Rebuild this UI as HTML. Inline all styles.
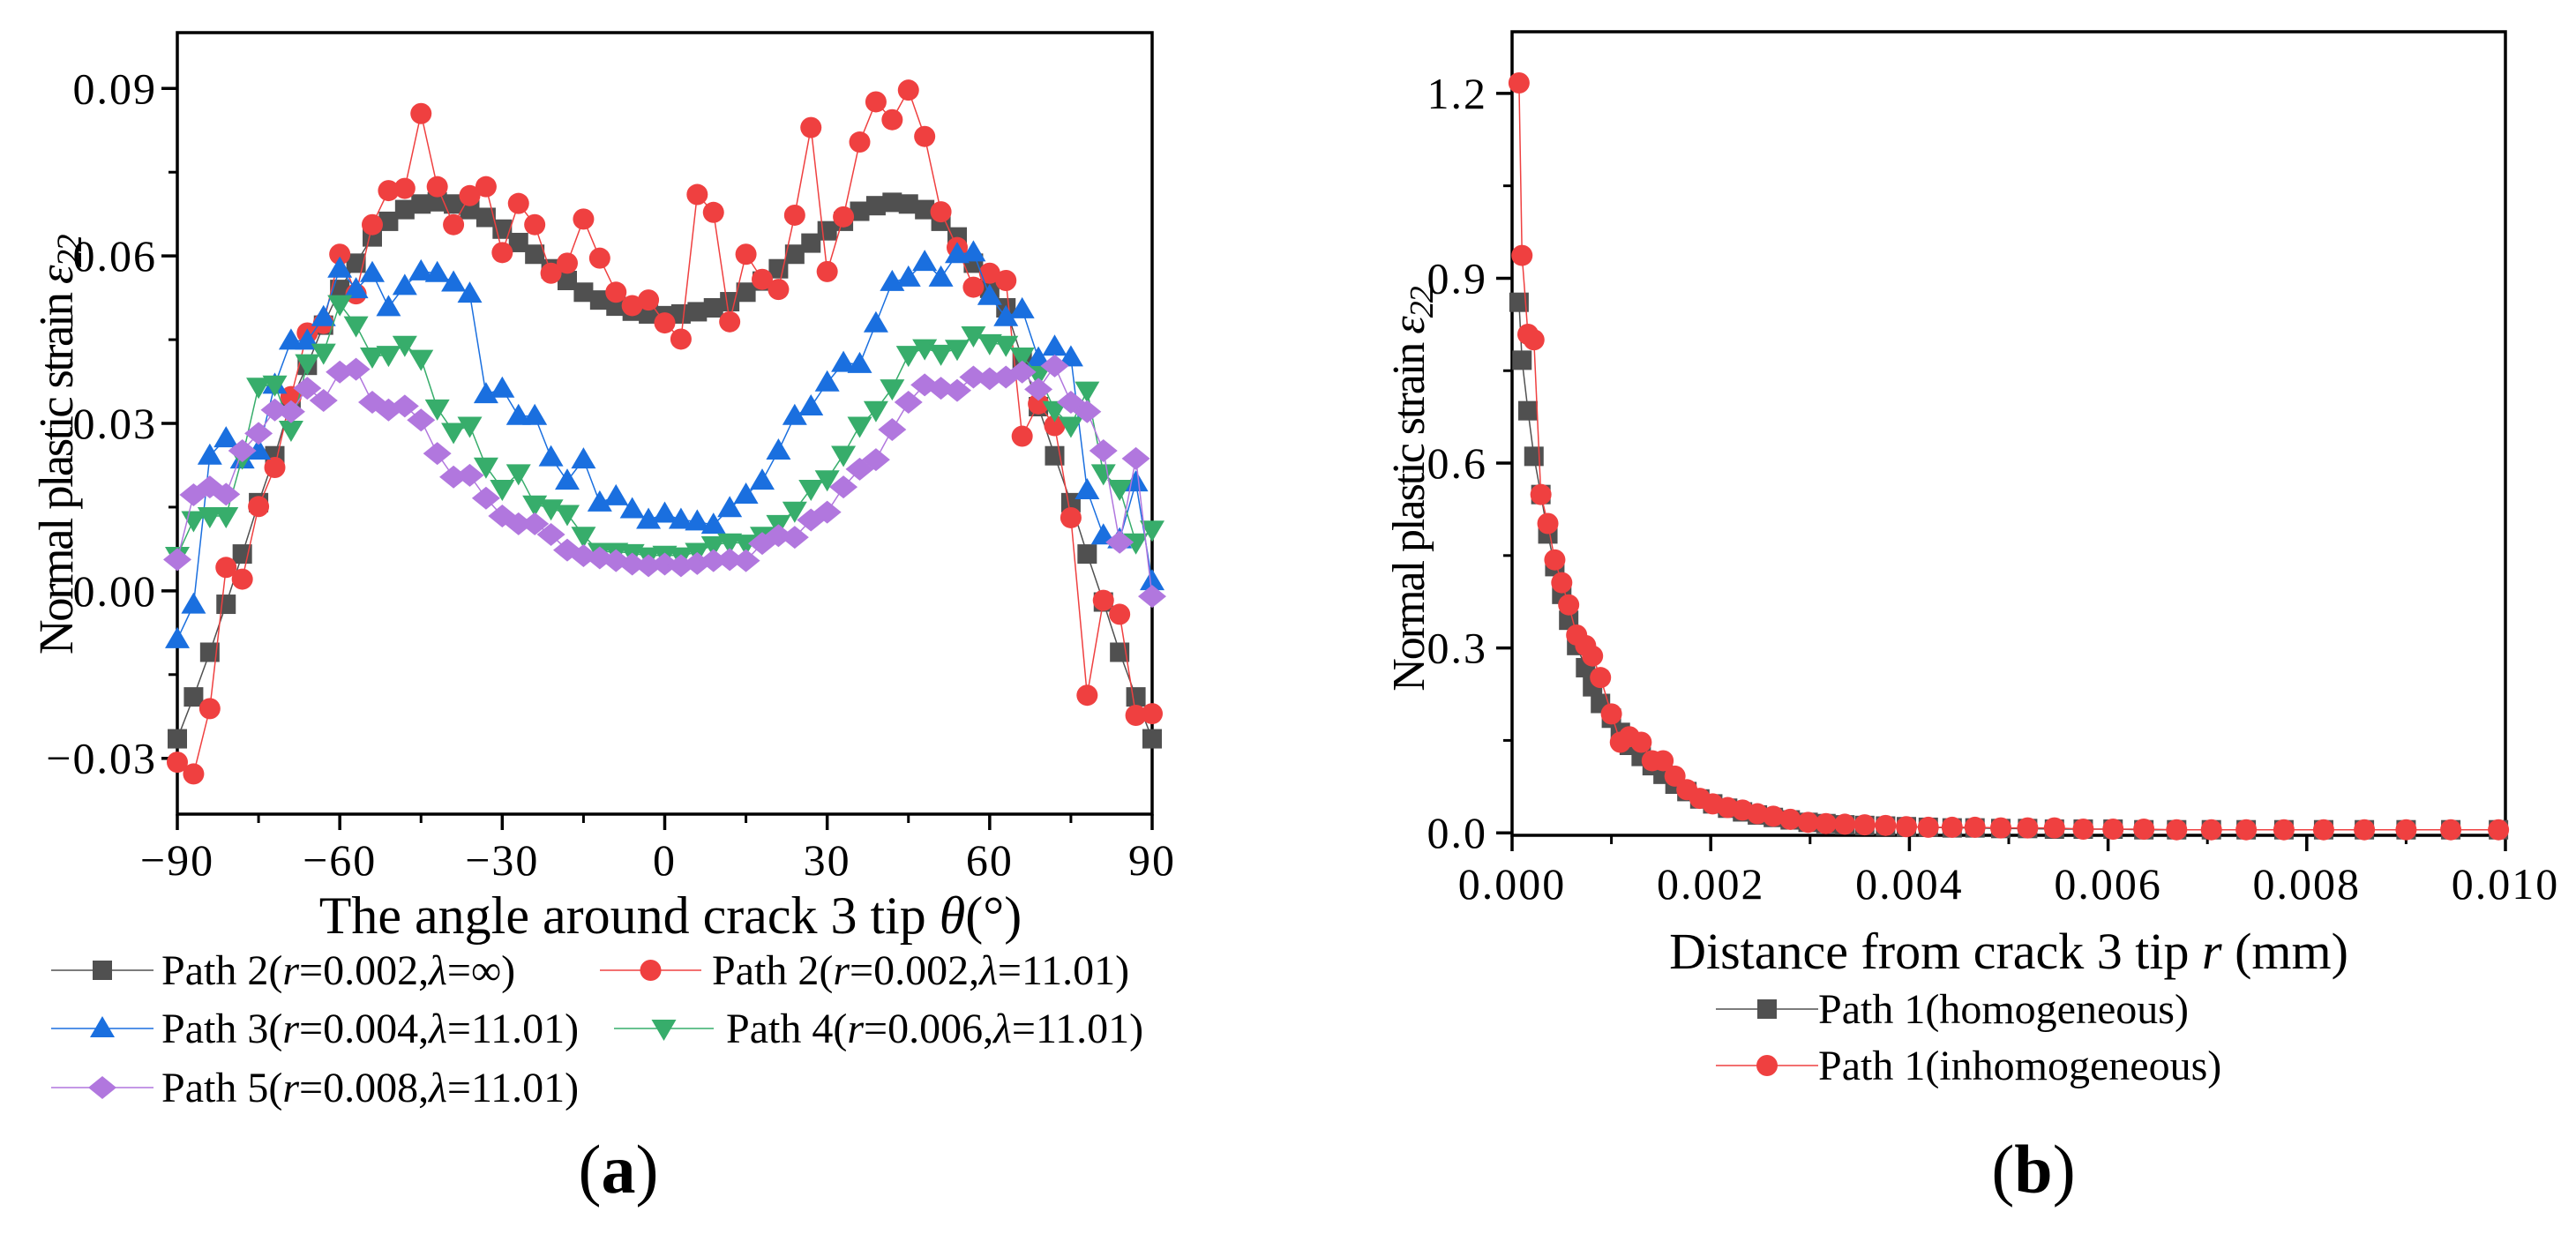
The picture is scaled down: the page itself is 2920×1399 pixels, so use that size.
<!DOCTYPE html>
<html><head><meta charset="utf-8"><style>
html,body{margin:0;padding:0;background:#fff;}
svg{display:block;font-family:"Liberation Serif",serif;}
</style></head><body>
<svg id="fig" width="2920" height="1399" viewBox="0 0 2920 1399" xmlns="http://www.w3.org/2000/svg">
<rect width="2920" height="1399" fill="#fff"/>
<g id="pa"></g>
<g id="pb"></g>
</svg>
<script>
// ---------- Panel (a) data ----------
const anglesA = [-90,-87,-84,-81,-78,-75,-72,-69,-66,-63,-60,-57,-54,-51,-48,-45,-42,-39,-36,-33,-30,-27,-24,-21,-18,-15,-12,-9,-6,-3,0,3,6,9,12,15,18,21,24,27,30,33,36,39,42,45,48,51,54,57,60,63,66,69,72,75,78,81,84,87,90];
const path2Inf = [-0.0265,-0.019,-0.011,-0.0024,0.0066,0.0158,0.0242,0.034,0.0404,0.0476,0.054,0.0587,0.0634,0.0662,0.0683,0.0693,0.0697,0.0693,0.0683,0.0669,0.0648,0.0624,0.0603,0.0577,0.0556,0.0535,0.0521,0.051,0.0501,0.0496,0.0493,0.0496,0.05,0.0507,0.0518,0.0535,0.0555,0.0577,0.0603,0.0623,0.0645,0.0662,0.068,0.069,0.0696,0.0693,0.0683,0.0662,0.0634,0.0587,0.0542,0.0507,0.0416,0.033,0.0242,0.0158,0.0066,-0.002,-0.011,-0.019,-0.0265];
const path2 = [-0.0307,-0.0328,-0.0211,0.0042,0.0021,0.0151,0.0221,0.0348,0.0462,0.0479,0.0603,0.0532,0.0656,0.0717,0.0721,0.0855,0.0724,0.0656,0.0708,0.0724,0.0606,0.0694,0.0656,0.0569,0.0587,0.0666,0.0596,0.0535,0.0511,0.0521,0.048,0.0451,0.071,0.0678,0.0482,0.0603,0.0558,0.054,0.0673,0.083,0.0572,0.067,0.0804,0.0876,0.0844,0.0897,0.0814,0.0679,0.0615,0.0544,0.0569,0.0556,0.0277,0.0335,0.0296,0.0131,-0.0187,-0.0017,-0.0042,-0.0223,-0.022];
const path3 = [-0.0087,-0.0025,0.0242,0.0273,0.0235,0.0251,0.0369,0.0448,0.0448,0.049,0.0577,0.054,0.0569,0.0508,0.0546,0.0572,0.0569,0.0552,0.0532,0.0352,0.0362,0.0313,0.0313,0.0239,0.0197,0.0235,0.0158,0.0169,0.0146,0.0127,0.0138,0.0127,0.0124,0.0118,0.0148,0.0172,0.0197,0.0251,0.0313,0.033,0.0373,0.0408,0.0406,0.0479,0.0553,0.0561,0.0589,0.0561,0.0603,0.0606,0.0528,0.049,0.0504,0.0416,0.0437,0.0418,0.018,0.0099,0.0092,0.0194,0.0017];
const path4 = [0.0063,0.0127,0.0134,0.0134,0.0239,0.0366,0.037,0.0289,0.0408,0.0427,0.0514,0.0476,0.042,0.0423,0.0441,0.0416,0.0327,0.0285,0.0296,0.0223,0.0183,0.0211,0.0155,0.0148,0.0138,0.0099,0.007,0.007,0.0068,0.0062,0.0065,0.0062,0.007,0.0082,0.0087,0.0085,0.0099,0.012,0.0144,0.0183,0.02,0.0244,0.0296,0.0324,0.0363,0.0423,0.0435,0.0425,0.0434,0.0458,0.0444,0.0441,0.042,0.0387,0.0324,0.0296,0.0359,0.0211,0.0183,0.0087,0.011];
const path5 = [0.0056,0.0172,0.0186,0.0173,0.0251,0.0282,0.0324,0.0321,0.0363,0.0341,0.0392,0.0397,0.0338,0.0324,0.0331,0.0306,0.0246,0.0204,0.0207,0.0166,0.0134,0.012,0.012,0.0101,0.0073,0.0063,0.0059,0.0054,0.0048,0.0045,0.0048,0.0045,0.0049,0.0054,0.0056,0.0054,0.0085,0.0099,0.0096,0.0127,0.0141,0.0186,0.0218,0.0235,0.0289,0.0338,0.0369,0.0363,0.0359,0.0383,0.038,0.0383,0.0392,0.0361,0.0403,0.0338,0.0321,0.0251,0.0087,0.0237,-0.001];
const xTicksA = [-90,-60,-30,0,30,60,90];
const xTickLabelsA = ["\u221290","\u221260","\u221230","0","30","60","90"];
const yTicksA = [-0.03,0,0.03,0.06,0.09];
const yTickLabelsA = ["\u22120.03","0.00","0.03","0.06","0.09"];

// ---------- Panel (b) data ----------
const distB = [0.00007,0.0001,0.00016,0.00022,0.00029,0.00036,0.00043,0.0005,0.00057,0.00065,0.00074,0.00081,0.00089,0.001,0.00109,0.00118,0.0013,0.00141,0.00152,0.00164,0.00176,0.00189,0.00202,0.00217,0.00232,0.00247,0.00263,0.0028,0.00298,0.00316,0.00335,0.00355,0.00376,0.00397,0.00419,0.00443,0.00466,0.00492,0.00519,0.00546,0.00575,0.00605,0.00636,0.00669,0.00704,0.00739,0.00777,0.00817,0.00858,0.009,0.00945,0.00993];
const homog = [0.861,0.767,0.685,0.611,0.549,0.485,0.432,0.387,0.345,0.304,0.268,0.237,0.21,0.186,0.163,0.142,0.124,0.109,0.095,0.079,0.067,0.055,0.047,0.04,0.034,0.029,0.025,0.021,0.017,0.015,0.013,0.012,0.011,0.01,0.009,0.008,0.008,0.007,0.007,0.006,0.006,0.006,0.005,0.005,0.005,0.005,0.005,0.005,0.005,0.005,0.005,0.005];
const inhomog = [1.217,0.937,0.809,0.8,0.549,0.502,0.443,0.406,0.37,0.321,0.304,0.287,0.252,0.193,0.147,0.156,0.147,0.117,0.117,0.092,0.07,0.056,0.047,0.041,0.037,0.031,0.027,0.022,0.017,0.015,0.014,0.013,0.012,0.01,0.009,0.009,0.009,0.008,0.008,0.008,0.006,0.006,0.006,0.005,0.005,0.005,0.005,0.005,0.005,0.005,0.005,0.005];
const xTicksB = [0,0.002,0.004,0.006,0.008,0.010];
const xTickLabelsB = ["0.000","0.002","0.004","0.006","0.008","0.010"];
const yTicksB = [0,0.3,0.6,0.9,1.2];
const yTickLabelsB = ["0.0","0.3","0.6","0.9","1.2"];

const NS = "http://www.w3.org/2000/svg";
function mk(parent, tag, attrs){ const e=document.createElementNS(NS,tag); for(const k in attrs) e.setAttribute(k,attrs[k]); parent.appendChild(e); return e; }

function marker(g, type, x, y, color){
  let e;
  if(type==='square') e=mk(g,'rect',{x:x-11,y:y-11,width:22,height:22,fill:color});
  else if(type==='circle') e=mk(g,'circle',{cx:x,cy:y,r:12,fill:color});
  else if(type==='up') e=mk(g,'polygon',{points:`${x},${y-14} ${x+14},${y+10} ${x-14},${y+10}`,fill:color});
  else if(type==='down') e=mk(g,'polygon',{points:`${x-14},${y-10} ${x+14},${y-10} ${x},${y+14}`,fill:color});
  else e=mk(g,'polygon',{points:`${x},${y-13} ${x+16},${y} ${x},${y+13} ${x-16},${y}`,fill:color});
  return e;
}

function series(g, xs, ys, fx, fy, type, color, name){
  const sg=mk(g,'g',{});
  
  
  const pts=xs.map((v,i)=>fx(v)+','+fy(ys[i])).join(' ');
  mk(sg,'polyline',{points:pts,fill:'none',stroke:color,'stroke-width':1.5});
  xs.forEach((v,i)=>{
    const m=marker(sg,type,fx(v),fy(ys[i]),color);
    
    
  });
}

function axes(g, L,R,T,B, xt,xl,xmin,xmax, minorX, yt,yl,ymin,ymax, minorY, labelBase, yLabRight){
  const fx=v=>L+(v-xmin)/(xmax-xmin)*(R-L);
  const fy=v=>B-(v-ymin)/(ymax-ymin)*(B-T);
  const fr=mk(g,'rect',{x:L,y:T,width:R-L,height:B-T,fill:'none',stroke:'#000','stroke-width':3.5});
  
  
  xt.forEach((v,i)=>{
    mk(g,'line',{x1:fx(v),x2:fx(v),y1:B,y2:B+18,stroke:'#000','stroke-width':3.5});
    const t=mk(g,'text',{x:fx(v),y:labelBase,'font-size':50,'letter-spacing':2,'text-anchor':'middle'});
    t.textContent=xl[i];
    
    
  });
  minorX.forEach(v=>mk(g,'line',{x1:fx(v),x2:fx(v),y1:B,y2:B+10,stroke:'#000','stroke-width':3}));
  yt.forEach((v,i)=>{
    mk(g,'line',{x1:L-18,x2:L,y1:fy(v),y2:fy(v),stroke:'#000','stroke-width':3.5});
    const t=mk(g,'text',{x:yLabRight,y:fy(v)+17,'font-size':50,'letter-spacing':2,'text-anchor':'end'});
    t.textContent=yl[i];
    
    
  });
  minorY.forEach(v=>mk(g,'line',{x1:L-10,x2:L,y1:fy(v),y2:fy(v),stroke:'#000','stroke-width':3}));
  return {fx,fy};
}

// Panel a
const ga=document.getElementById('pa');
const A=axes(ga,201,1306,37,923,xTicksA,xTickLabelsA,-90,90,[-75,-45,-15,15,45,75],
  yTicksA,yTickLabelsA,-0.04,0.1,[-0.015,0.015,0.045,0.075],992,178);
series(ga,anglesA,path2Inf,A.fx,A.fy,'square','#505050','series-path2-inf');
series(ga,anglesA,path2,A.fx,A.fy,'circle','#EF4040','series-path2');
series(ga,anglesA,path3,A.fx,A.fy,'up','#1A6FDF','series-path3');
series(ga,anglesA,path4,A.fx,A.fy,'down','#37AD6B','series-path4');
series(ga,anglesA,path5,A.fx,A.fy,'diamond','#B177DE','series-path5');

// Panel b
const gb=document.getElementById('pb');
const B=axes(gb,1714,2840,36,947,xTicksB,xTickLabelsB,0,0.01,[0.001,0.003,0.005,0.007,0.009],
  yTicksB,yTickLabelsB,-0.004,1.3,[0.15,0.45,0.75,1.05],1019,1686);
series(gb,distB,homog,B.fx,B.fy,'square','#505050','series-homogeneous');
series(gb,distB,inhomog,B.fx,B.fy,'circle','#EF4040','series-inhomogeneous');

// Legends
function legendEntry(g,x1,x2,y,type,color,html,tx,name){
  const lg=mk(g,'g',{});
  
  
  mk(lg,'line',{x1:x1,x2:x2,y1:y,y2:y,stroke:color,'stroke-width':1.5});
  marker(lg,type,(x1+x2)/2,y,color);
  const t=mk(lg,'text',{x:tx,y:y+16,'font-size':48});
  t.innerHTML=html;
}
const lam='<tspan font-style="italic">\u03bb</tspan>', rr='<tspan font-style="italic">r</tspan>';
legendEntry(ga,58,174,1100,'square','#505050',`Path 2(${rr}=0.002,${lam}=\u221e)`,183,'legend-path2-inf');
legendEntry(ga,680,795,1100,'circle','#EF4040',`Path 2(${rr}=0.002,${lam}=11.01)`,807,'legend-path2');
legendEntry(ga,58,174,1166,'up','#1A6FDF',`Path 3(${rr}=0.004,${lam}=11.01)`,183,'legend-path3');
legendEntry(ga,696,809,1166,'down','#37AD6B',`Path 4(${rr}=0.006,${lam}=11.01)`,823,'legend-path4');
legendEntry(ga,58,174,1233,'diamond','#B177DE',`Path 5(${rr}=0.008,${lam}=11.01)`,183,'legend-path5');
legendEntry(gb,1945,2061,1144,'square','#505050','Path 1(homogeneous)',2061,'legend-homogeneous');
legendEntry(gb,1945,2061,1208,'circle','#EF4040','Path 1(inhomogeneous)',2061,'legend-inhomogeneous');
</script>
<svg style="position:absolute;left:0;top:0" width="2920" height="1399" xmlns="http://www.w3.org/2000/svg" font-family="Liberation Serif, serif">
<text x="760" y="1058" font-size="60" text-anchor="middle">The angle around crack 3 tip <tspan font-style="italic">θ</tspan>(°)</text>
<text transform="translate(82,505) rotate(-90)" font-size="55" letter-spacing="-2.5" text-anchor="middle">Normal plastic strain <tspan font-style="italic">ε</tspan><tspan font-style="italic" font-size="40" dy="10">22</tspan></text>
<text x="2277" y="1098" font-size="58" text-anchor="middle">Distance from crack 3 tip <tspan font-style="italic">r</tspan> (mm)</text>
<text transform="translate(1614,555) rotate(-90)" font-size="52" letter-spacing="-2" text-anchor="middle">Normal plastic strain <tspan font-style="italic">ε</tspan><tspan font-style="italic" font-size="38" dy="10">22</tspan></text>
<text x="701" y="1352" font-size="78" text-anchor="middle">(<tspan font-weight="bold">a</tspan>)</text>
<text x="2305" y="1352" font-size="78" text-anchor="middle">(<tspan font-weight="bold">b</tspan>)</text>
</svg>
</body></html>
